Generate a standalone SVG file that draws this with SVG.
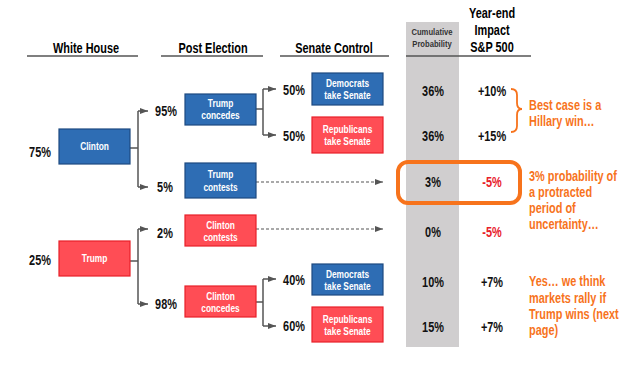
<svg xmlns="http://www.w3.org/2000/svg" width="640" height="367" viewBox="0 0 640 367">
<defs>
<marker id="ah" viewBox="0 0 8 6" refX="8" refY="3" markerWidth="8" markerHeight="6" markerUnits="userSpaceOnUse" orient="auto"><path d="M0,0 L8,3 L0,6 Z" fill="#555"/></marker>
<style>
text{font-family:"Liberation Sans",Arial,sans-serif;font-weight:bold;}
.hd{font-size:14px;fill:#000;text-anchor:middle;}
.sm{font-size:9.8px;fill:#333;text-anchor:middle;}
.pc{font-size:14px;fill:#111;text-anchor:middle;}
.bx{font-size:10.7px;fill:#fff;text-anchor:middle;}
.or{font-size:14px;fill:#F7731C;}
.neg{fill:#E8202A;}
.blue{fill:#2E6DB4;stroke:#1D4A80;stroke-width:1.2;}
.red{fill:#FF4D55;stroke:#E82029;stroke-width:1.2;}
.rule{stroke:#555;stroke-width:1.5;}
.cn{fill:none;stroke:#555;stroke-width:1.5;}
.ds{fill:none;stroke:#555;stroke-width:1.2;stroke-dasharray:3,2;}
</style>
</defs>
<rect x="406" y="22" width="53" height="325" fill="#D0CECF"/>
<g id="headers">
<line class="rule" x1="27" y1="56" x2="138" y2="56"/>
<line class="rule" x1="161" y1="56" x2="263" y2="56"/>
<line class="rule" x1="280" y1="56" x2="389" y2="56"/>
<line class="rule" x1="406" y1="56" x2="531" y2="56"/>
<text class="hd" transform="translate(86,53) scale(.78,1)">White House</text>
<text class="hd" transform="translate(213,53) scale(.78,1)">Post Election</text>
<text class="hd" transform="translate(334,53) scale(.78,1)">Senate Control</text>
<text class="sm" transform="translate(432,35) scale(.78,1)">Cumulative</text>
<text class="sm" transform="translate(432,47) scale(.78,1)">Probability</text>
<text class="hd" transform="translate(492,18) scale(.78,1)">Year-end</text>
<text class="hd" transform="translate(492,35) scale(.78,1)">Impact</text>
<text class="hd" transform="translate(492,52) scale(.78,1)">S&amp;P 500</text>
</g>
<g id="connectors">
<path class="cn" d="M130,148 H138 M138,111 V187"/>
<path class="cn" d="M138,111 H148" marker-end="url(#ah)"/>
<path class="cn" d="M138,187 H148" marker-end="url(#ah)"/>
<path class="cn" d="M130,261 H138 M138,229 V304"/>
<path class="cn" d="M138,229 H148" marker-end="url(#ah)"/>
<path class="cn" d="M138,304 H148" marker-end="url(#ah)"/>
<path class="cn" d="M256,109 H263 M263,89 V135"/>
<path class="cn" d="M263,89 H276" marker-end="url(#ah)"/>
<path class="cn" d="M263,135 H276" marker-end="url(#ah)"/>
<path class="cn" d="M256,302 H263 M263,279 V326"/>
<path class="cn" d="M263,279 H276" marker-end="url(#ah)"/>
<path class="cn" d="M263,326 H276" marker-end="url(#ah)"/>
<path class="ds" d="M256,182 H383" marker-end="url(#ah)"/>
<path class="ds" d="M256,229 H383" marker-end="url(#ah)"/>
</g>
<g id="clinton"><rect class="blue" x="59" y="129" width="71" height="35"/><text class="bx" transform="translate(94.5,150) scale(.78,1)">Clinton</text></g>
<g id="trump"><rect class="red" x="59" y="241" width="71" height="35"/><text class="bx" transform="translate(94.5,262) scale(.78,1)">Trump</text></g>
<g id="trump-concedes"><rect class="blue" x="185" y="94" width="71" height="31"/><text class="bx" transform="translate(220.5,107) scale(.78,1)">Trump</text><text class="bx" transform="translate(220.5,119) scale(.78,1)">concedes</text></g>
<g id="trump-contests"><rect class="blue" x="185" y="163" width="71" height="35"/><text class="bx" transform="translate(220.5,178) scale(.78,1)">Trump</text><text class="bx" transform="translate(220.5,191) scale(.78,1)">contests</text></g>
<g id="clinton-contests"><rect class="red" x="185" y="215" width="71" height="31"/><text class="bx" transform="translate(220.5,229) scale(.78,1)">Clinton</text><text class="bx" transform="translate(220.5,241) scale(.78,1)">contests</text></g>
<g id="clinton-concedes"><rect class="red" x="185" y="286" width="71" height="31"/><text class="bx" transform="translate(220.5,300) scale(.78,1)">Clinton</text><text class="bx" transform="translate(220.5,312) scale(.78,1)">concedes</text></g>
<g id="dem-1"><rect class="blue" x="312" y="73" width="71" height="32"/><text class="bx" transform="translate(347.5,87) scale(.78,1)">Democrats</text><text class="bx" transform="translate(347.5,99) scale(.78,1)">take Senate</text></g>
<g id="rep-1"><rect class="red" x="312" y="117" width="71" height="36"/><text class="bx" transform="translate(347.5,133) scale(.78,1)">Republicans</text><text class="bx" transform="translate(347.5,145) scale(.78,1)">take Senate</text></g>
<g id="dem-2"><rect class="blue" x="312" y="264" width="71" height="31"/><text class="bx" transform="translate(347.5,278) scale(.78,1)">Democrats</text><text class="bx" transform="translate(347.5,290) scale(.78,1)">take Senate</text></g>
<g id="rep-2"><rect class="red" x="312" y="307" width="71" height="35"/><text class="bx" transform="translate(347.5,323) scale(.78,1)">Republicans</text><text class="bx" transform="translate(347.5,335) scale(.78,1)">take Senate</text></g>
<g id="percents">
<text class="pc" transform="translate(40,157) scale(.78,1)">75%</text>
<text class="pc" transform="translate(40,265) scale(.78,1)">25%</text>
<text class="pc" transform="translate(166,116) scale(.78,1)">95%</text>
<text class="pc" transform="translate(165,192) scale(.78,1)">5%</text>
<text class="pc" transform="translate(165,238) scale(.78,1)">2%</text>
<text class="pc" transform="translate(166,309) scale(.78,1)">98%</text>
<text class="pc" transform="translate(294,95) scale(.78,1)">50%</text>
<text class="pc" transform="translate(294,141) scale(.78,1)">50%</text>
<text class="pc" transform="translate(294,285) scale(.78,1)">40%</text>
<text class="pc" transform="translate(294,331) scale(.78,1)">60%</text>
</g>
<g id="cumulative">
<text class="pc" transform="translate(433,96) scale(.78,1)">36%</text>
<text class="pc" transform="translate(433,141) scale(.78,1)">36%</text>
<text class="pc" transform="translate(433,187) scale(.78,1)">3%</text>
<text class="pc" transform="translate(433,237) scale(.78,1)">0%</text>
<text class="pc" transform="translate(433,287) scale(.78,1)">10%</text>
<text class="pc" transform="translate(433,332) scale(.78,1)">15%</text>
</g>
<g id="impact">
<text class="pc" transform="translate(492,96) scale(.78,1)">+10%</text>
<text class="pc" transform="translate(492,141) scale(.78,1)">+15%</text>
<text class="pc neg" transform="translate(492,187) scale(.78,1)">-5%</text>
<text class="pc neg" transform="translate(492,237) scale(.78,1)">-5%</text>
<text class="pc" transform="translate(492,287) scale(.78,1)">+7%</text>
<text class="pc" transform="translate(492,332) scale(.78,1)">+7%</text>
</g>
<g id="highlight"><rect x="398" y="162" width="122" height="41" rx="10" fill="none" stroke="#F7731C" stroke-width="4"/></g>
<g id="brace"><path d="M511,89 Q517,89 517,95 L517,103 Q517,109 522,109 Q517,109 517,115 L517,126 Q517,132 511,132" fill="none" stroke="#F7731C" stroke-width="1.8"/></g>
<g id="notes">
<text class="or" transform="translate(529,110) scale(.78,1)">Best case is a</text>
<text class="or" transform="translate(529,126) scale(.78,1)">Hillary win…</text>
<text class="or" transform="translate(529,181) scale(.78,1)">3% probability of</text>
<text class="or" transform="translate(529,197) scale(.78,1)">a protracted</text>
<text class="or" transform="translate(529,213) scale(.78,1)">period of</text>
<text class="or" transform="translate(529,229) scale(.78,1)">uncertainty…</text>
<text class="or" transform="translate(529,286) scale(.78,1)">Yes… we think</text>
<text class="or" transform="translate(529,303) scale(.78,1)">markets rally if</text>
<text class="or" transform="translate(529,319) scale(.78,1)">Trump wins (next</text>
<text class="or" transform="translate(529,335) scale(.78,1)">page)</text>
</g>
</svg>
